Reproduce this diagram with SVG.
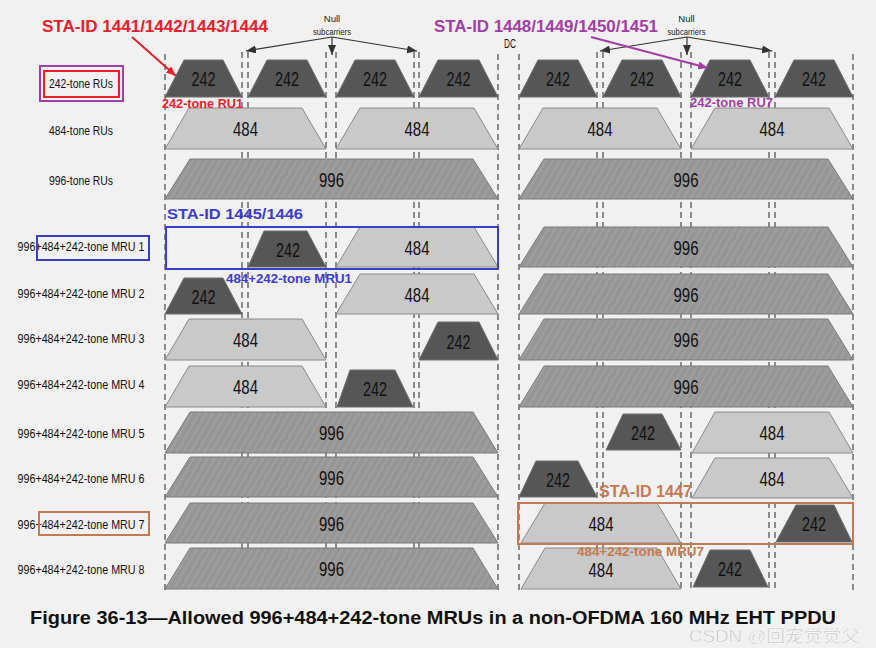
<svg xmlns="http://www.w3.org/2000/svg" width="876" height="648" viewBox="0 0 876 648">
<style>
.t242{fill:#565656;stroke:#6e6e6e;stroke-width:1}
.t484{fill:#c9c9c9;stroke:#8a8a8a;stroke-width:1}
.t996{fill:url(#hatch);stroke:#7a7a7a;stroke-width:1}
.num{font-family:"Liberation Sans",Arial,sans-serif;font-size:20px;text-anchor:middle;fill:#111}
.lbl{font-family:"Liberation Sans",Arial,sans-serif;font-size:13px;text-anchor:middle;fill:#111}
.guide{stroke:#555;stroke-width:1.3;stroke-dasharray:6 4;fill:none}
.box{fill:none;stroke-width:2}
.tag{font-family:"Liberation Sans",Arial,sans-serif;font-weight:bold}
.small{font-family:"Liberation Sans",Arial,sans-serif;font-size:9.5px;text-anchor:middle;fill:#222}
.conn{stroke:#333;stroke-width:1.2;fill:none}
</style>
<defs>
<pattern id="hatch" patternUnits="userSpaceOnUse" width="6" height="10" patternTransform="rotate(30)">
<rect width="6" height="10" fill="#969696"/>
<line x1="1" y1="0" x2="1" y2="10" stroke="#a2a2a2" stroke-width="1.6"/>
</pattern>
<marker id="ah" markerUnits="userSpaceOnUse" markerWidth="10" markerHeight="8" refX="10" refY="4" orient="auto"><path d="M0,0 L10,4 L0,8 z" fill="#333"/></marker>
<marker id="ahRed" markerUnits="userSpaceOnUse" markerWidth="10" markerHeight="8" refX="10" refY="4" orient="auto"><path d="M0,0 L10,4 L0,8 z" fill="#e8202a"/></marker>
<marker id="ahPur" markerUnits="userSpaceOnUse" markerWidth="10" markerHeight="8" refX="10" refY="4" orient="auto"><path d="M0,0 L10,4 L0,8 z" fill="#a23fa6"/></marker>
</defs>
<rect width="876" height="648" fill="#f1f1f1"/>

<g id="guides">
<line class="guide" x1="165" y1="54" x2="165" y2="591"/>
<line class="guide" x1="242" y1="52" x2="242" y2="591"/>
<line class="guide" x1="248" y1="52" x2="248" y2="591"/>
<line class="guide" x1="326" y1="52" x2="326" y2="591"/>
<line class="guide" x1="336" y1="52" x2="336" y2="591"/>
<line class="guide" x1="414" y1="52" x2="414" y2="591"/>
<line class="guide" x1="419" y1="52" x2="419" y2="591"/>
<line class="guide" x1="498" y1="54" x2="498" y2="591"/>
<line class="guide" x1="519" y1="54" x2="519" y2="591"/>
<line class="guide" x1="597" y1="52" x2="597" y2="591"/>
<line class="guide" x1="603" y1="52" x2="603" y2="591"/>
<line class="guide" x1="681" y1="52" x2="681" y2="591"/>
<line class="guide" x1="691" y1="52" x2="691" y2="591"/>
<line class="guide" x1="769" y1="52" x2="769" y2="591"/>
<line class="guide" x1="775" y1="52" x2="775" y2="591"/>
<line class="guide" x1="853" y1="54" x2="853" y2="591"/>
</g>

<g id="row-labels">
<g id="lbl-242"><text class="lbl" x="81" y="88" textLength="64" lengthAdjust="spacingAndGlyphs">242-tone RUs</text></g>
<g id="lbl-484"><text class="lbl" x="81" y="135" textLength="64" lengthAdjust="spacingAndGlyphs">484-tone RUs</text></g>
<g id="lbl-996"><text class="lbl" x="81" y="185" textLength="64" lengthAdjust="spacingAndGlyphs">996-tone RUs</text></g>
<g id="lbl-mru1"><text class="lbl" x="81" y="251" textLength="127" lengthAdjust="spacingAndGlyphs">996+484+242-tone MRU 1</text></g>
<g id="lbl-mru2"><text class="lbl" x="81" y="298" textLength="127" lengthAdjust="spacingAndGlyphs">996+484+242-tone MRU 2</text></g>
<g id="lbl-mru3"><text class="lbl" x="81" y="343" textLength="127" lengthAdjust="spacingAndGlyphs">996+484+242-tone MRU 3</text></g>
<g id="lbl-mru4"><text class="lbl" x="81" y="389" textLength="127" lengthAdjust="spacingAndGlyphs">996+484+242-tone MRU 4</text></g>
<g id="lbl-mru5"><text class="lbl" x="81" y="438" textLength="127" lengthAdjust="spacingAndGlyphs">996+484+242-tone MRU 5</text></g>
<g id="lbl-mru6"><text class="lbl" x="81" y="483" textLength="127" lengthAdjust="spacingAndGlyphs">996+484+242-tone MRU 6</text></g>
<g id="lbl-mru7"><text class="lbl" x="81" y="529" textLength="127" lengthAdjust="spacingAndGlyphs">996+484+242-tone MRU 7</text></g>
<g id="lbl-mru8"><text class="lbl" x="81" y="574" textLength="127" lengthAdjust="spacingAndGlyphs">996+484+242-tone MRU 8</text></g>
</g>

<g id="label-boxes">
<rect class="box" x="40" y="66" width="83" height="35" stroke="#a23fa6"/>
<rect class="box" x="44" y="71" width="75" height="26" stroke="#e8202a"/>
<rect class="box" x="37" y="236" width="112" height="24" stroke="#3d3dcc"/>
<rect class="box" x="39" y="512" width="110" height="23" stroke="#c47a50"/>
</g>

<!-- Row 1: 242-tone RUs -->
<g id="r1-ru1"><polygon class="t242" points="165,97 184,60 223,60 242,97"/><text class="num" x="203.5" y="86" textLength="24" lengthAdjust="spacingAndGlyphs">242</text></g>
<g id="r1-ru2"><polygon class="t242" points="248,97 267,60 307,60 326,97"/><text class="num" x="287" y="86" textLength="24" lengthAdjust="spacingAndGlyphs">242</text></g>
<g id="r1-ru3"><polygon class="t242" points="336,97 355,60 395,60 414,97"/><text class="num" x="375" y="86" textLength="24" lengthAdjust="spacingAndGlyphs">242</text></g>
<g id="r1-ru4"><polygon class="t242" points="419,97 438,60 479,60 498,97"/><text class="num" x="458.5" y="86" textLength="24" lengthAdjust="spacingAndGlyphs">242</text></g>
<g id="r1-ru5"><polygon class="t242" points="519,97 538,60 578,60 597,97"/><text class="num" x="558" y="86" textLength="24" lengthAdjust="spacingAndGlyphs">242</text></g>
<g id="r1-ru6"><polygon class="t242" points="603,97 622,60 662,60 681,97"/><text class="num" x="642" y="86" textLength="24" lengthAdjust="spacingAndGlyphs">242</text></g>
<g id="r1-ru7"><polygon class="t242" points="691,97 710,60 750,60 769,97"/><text class="num" x="730" y="86" textLength="24" lengthAdjust="spacingAndGlyphs">242</text></g>
<g id="r1-ru8"><polygon class="t242" points="775,97 794,60 834,60 853,97"/><text class="num" x="814" y="86" textLength="24" lengthAdjust="spacingAndGlyphs">242</text></g>

<!-- Row 2: 484-tone RUs -->
<g id="r2-ru1"><polygon class="t484" points="165,149 189,108 302,108 326,149"/><text class="num" x="245.5" y="136" textLength="25" lengthAdjust="spacingAndGlyphs">484</text></g>
<g id="r2-ru2"><polygon class="t484" points="336,149 360,108 474,108 498,149"/><text class="num" x="417" y="136" textLength="25" lengthAdjust="spacingAndGlyphs">484</text></g>
<g id="r2-ru3"><polygon class="t484" points="519,149 543,108 657,108 681,149"/><text class="num" x="600" y="136" textLength="25" lengthAdjust="spacingAndGlyphs">484</text></g>
<g id="r2-ru4"><polygon class="t484" points="691,149 715,108 829,108 853,149"/><text class="num" x="772" y="136" textLength="25" lengthAdjust="spacingAndGlyphs">484</text></g>

<!-- Row 3: 996-tone RUs -->
<g id="r3-ru1"><polygon class="t996" points="165,199 190,159 473,159 498,199"/><text class="num" x="331.5" y="186.5" textLength="25" lengthAdjust="spacingAndGlyphs">996</text></g>
<g id="r3-ru2"><polygon class="t996" points="519,199 544,159 828,159 853,199"/><text class="num" x="686" y="186.5" textLength="25" lengthAdjust="spacingAndGlyphs">996</text></g>

<!-- MRU 1 -->
<g id="m1-242"><polygon class="t242" points="248,267 264,231 307,231 326,267"/><text class="num" x="288" y="256.5" textLength="24" lengthAdjust="spacingAndGlyphs">242</text></g>
<g id="m1-484"><polygon class="t484" points="336,267 360,227 474,227 498,267"/><text class="num" x="417" y="254.5" textLength="25" lengthAdjust="spacingAndGlyphs">484</text></g>
<g id="m1-996"><polygon class="t996" points="519,267 544,227 828,227 853,267"/><text class="num" x="686" y="254.5" textLength="25" lengthAdjust="spacingAndGlyphs">996</text></g>

<!-- MRU 2 -->
<g id="m2-242"><polygon class="t242" points="165,314 184,278 223,278 242,314"/><text class="num" x="203.5" y="303.5" textLength="24" lengthAdjust="spacingAndGlyphs">242</text></g>
<g id="m2-484"><polygon class="t484" points="336,314 360,274 474,274 498,314"/><text class="num" x="417" y="301.5" textLength="25" lengthAdjust="spacingAndGlyphs">484</text></g>
<g id="m2-996"><polygon class="t996" points="519,314 544,274 828,274 853,314"/><text class="num" x="686" y="301.5" textLength="25" lengthAdjust="spacingAndGlyphs">996</text></g>

<!-- MRU 3 -->
<g id="m3-484"><polygon class="t484" points="165,360 189,319 302,319 326,360"/><text class="num" x="245.5" y="347" textLength="25" lengthAdjust="spacingAndGlyphs">484</text></g>
<g id="m3-242"><polygon class="t242" points="419,360 438,322 479,322 498,360"/><text class="num" x="458.5" y="348.5" textLength="24" lengthAdjust="spacingAndGlyphs">242</text></g>
<g id="m3-996"><polygon class="t996" points="519,360 544,319 828,319 853,360"/><text class="num" x="686" y="347" textLength="25" lengthAdjust="spacingAndGlyphs">996</text></g>

<!-- MRU 4 -->
<g id="m4-484"><polygon class="t484" points="165,407 189,366 302,366 326,407"/><text class="num" x="245.5" y="394" textLength="25" lengthAdjust="spacingAndGlyphs">484</text></g>
<g id="m4-242"><polygon class="t242" points="337,407 350,370 395,370 413,407"/><text class="num" x="375" y="396" textLength="24" lengthAdjust="spacingAndGlyphs">242</text></g>
<g id="m4-996"><polygon class="t996" points="519,407 544,366 828,366 853,407"/><text class="num" x="686" y="394" textLength="25" lengthAdjust="spacingAndGlyphs">996</text></g>

<!-- MRU 5 -->
<g id="m5-996"><polygon class="t996" points="165,453 190,412 473,412 498,453"/><text class="num" x="331.5" y="440" textLength="25" lengthAdjust="spacingAndGlyphs">996</text></g>
<g id="m5-242"><polygon class="t242" points="606,450 623,414 662,414 681,450"/><text class="num" x="643" y="439.5" textLength="24" lengthAdjust="spacingAndGlyphs">242</text></g>
<g id="m5-484"><polygon class="t484" points="692,453 715,412 829,412 853,453"/><text class="num" x="772" y="440" textLength="25" lengthAdjust="spacingAndGlyphs">484</text></g>

<!-- MRU 6 -->
<g id="m6-996"><polygon class="t996" points="165,497 190,457 473,457 498,497"/><text class="num" x="331.5" y="484.5" textLength="25" lengthAdjust="spacingAndGlyphs">996</text></g>
<g id="m6-242"><polygon class="t242" points="519,497 536,461 578,461 597,497"/><text class="num" x="558" y="486.5" textLength="24" lengthAdjust="spacingAndGlyphs">242</text></g>
<g id="m6-484"><polygon class="t484" points="692,498 715,458 829,458 853,498"/><text class="num" x="772" y="485.5" textLength="25" lengthAdjust="spacingAndGlyphs">484</text></g>

<!-- MRU 7 -->
<g id="m7-996"><polygon class="t996" points="165,543 190,503 473,503 498,543"/><text class="num" x="331.5" y="530.5" textLength="25" lengthAdjust="spacingAndGlyphs">996</text></g>
<g id="m7-484"><polygon class="t484" points="521,543 545,503 657,503 681,543"/><text class="num" x="601" y="530.5" textLength="25" lengthAdjust="spacingAndGlyphs">484</text></g>
<g id="m7-242"><polygon class="t242" points="776,542 796,505 834,505 852,542"/><text class="num" x="814" y="531" textLength="24" lengthAdjust="spacingAndGlyphs">242</text></g>

<!-- MRU 8 -->
<g id="m8-996"><polygon class="t996" points="165,589 190,548 473,548 498,589"/><text class="num" x="331.5" y="576" textLength="25" lengthAdjust="spacingAndGlyphs">996</text></g>
<g id="m8-484"><polygon class="t484" points="521,589 545,548 657,548 681,589"/><text class="num" x="601" y="576.5" textLength="25" lengthAdjust="spacingAndGlyphs">484</text></g>
<g id="m8-242"><polygon class="t242" points="693,587 710,550 750,550 768,587"/><text class="num" x="730" y="576" textLength="24" lengthAdjust="spacingAndGlyphs">242</text></g>

<g id="highlight-boxes">
<rect class="box" x="166" y="227" width="332" height="42" stroke="#3d3dcc"/>
<rect class="box" x="518" y="503" width="335" height="41" stroke="#c47a50"/>
</g>

<g id="annotations">
<text class="tag" x="42" y="32" font-size="16.5" fill="#e8202a" textLength="226" lengthAdjust="spacingAndGlyphs">STA-ID 1441/1442/1443/1444</text>
<text class="tag" x="162" y="108" font-size="12.5" fill="#e8202a" textLength="81" lengthAdjust="spacingAndGlyphs">242-tone RU1</text>
<text class="tag" x="434" y="32" font-size="16.5" fill="#a23fa6" textLength="224" lengthAdjust="spacingAndGlyphs">STA-ID 1448/1449/1450/1451</text>
<text class="tag" x="690" y="107" font-size="12.5" fill="#a23fa6" textLength="83" lengthAdjust="spacingAndGlyphs">242-tone RU7</text>
<text class="tag" x="167" y="219" font-size="15" fill="#3d3dcc" textLength="136" lengthAdjust="spacingAndGlyphs">STA-ID 1445/1446</text>
<text class="tag" x="226" y="283" font-size="12.5" fill="#3d3dcc" textLength="126" lengthAdjust="spacingAndGlyphs">484+242-tone MRU1</text>
<text class="tag" x="599" y="497" font-size="16" fill="#c47a50" textLength="93" lengthAdjust="spacingAndGlyphs">STA-ID 1447</text>
<text class="tag" x="577" y="555.5" font-size="12" fill="#c47a50" textLength="127" lengthAdjust="spacingAndGlyphs">484+242-tone MRU7</text>
<text class="small" x="332" y="22">Null</text>
<text class="small" x="332" y="35" textLength="38" lengthAdjust="spacingAndGlyphs">subcarriers</text>
<text class="small" x="686.5" y="22">Null</text>
<text class="small" x="686.5" y="35" textLength="38" lengthAdjust="spacingAndGlyphs">subcarriers</text>
<text x="510" y="48" font-family="Liberation Sans, Arial, sans-serif" font-size="12" text-anchor="middle" fill="#111" textLength="12" lengthAdjust="spacingAndGlyphs">DC</text>
</g>

<g id="connectors">
<line class="conn" x1="332" y1="37" x2="246" y2="51" marker-end="url(#ah)"/>
<line class="conn" x1="332" y1="37" x2="417" y2="51" marker-end="url(#ah)"/>
<line class="conn" x1="332" y1="37" x2="332" y2="55" marker-end="url(#ah)"/>
<line class="conn" x1="687" y1="37" x2="600" y2="51" marker-end="url(#ah)"/>
<line class="conn" x1="687" y1="37" x2="772" y2="51" marker-end="url(#ah)"/>
<line class="conn" x1="687" y1="37" x2="687" y2="55" marker-end="url(#ah)"/>
<line x1="132" y1="37" x2="176" y2="76" stroke="#e8202a" stroke-width="2" marker-end="url(#ahRed)"/>
<line x1="591" y1="37" x2="708" y2="68" stroke="#a23fa6" stroke-width="2" marker-end="url(#ahPur)"/>
</g>

<g id="caption">
<text x="30" y="624" font-family="Liberation Sans, Arial, sans-serif" font-weight="bold" font-size="18" fill="#111" textLength="806" lengthAdjust="spacingAndGlyphs">Figure 36-13—Allowed 996+484+242-tone MRUs in a non-OFDMA 160 MHz EHT PPDU</text>
<text x="689" y="642" font-family="Liberation Sans, 'Noto Sans CJK SC', sans-serif" font-size="17" fill="#c4c4c4" stroke="#ffffff" stroke-width="0.4" textLength="171" lengthAdjust="spacingAndGlyphs">CSDN @回宠觉觉父</text>
</g>
</svg>
